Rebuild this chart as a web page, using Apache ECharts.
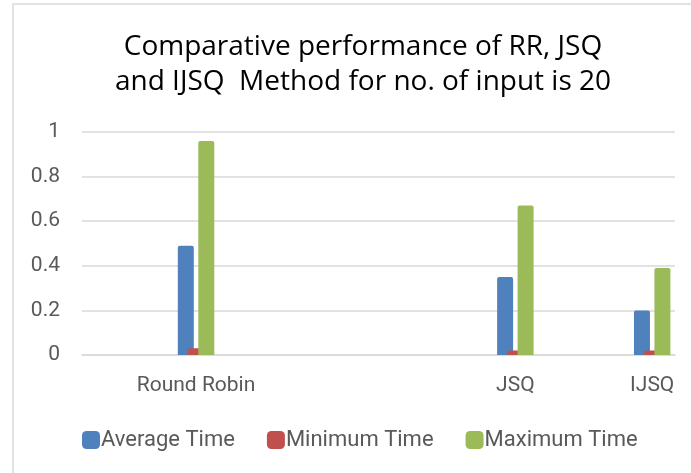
<!DOCTYPE html>
<html>
<head>
<meta charset="utf-8">
<script src="https://cdn.jsdelivr.net/npm/echarts@6/dist/echarts.min.js"></script>
<style>
  html, body { margin: 0; padding: 0; background: #fff; }
  #chart { width: 691px; height: 473px; }
</style>
</head>
<body>
<div id="chart"></div>
<script>
// categories (empty slots keep the original spacing)
var categories = ['', '', 'Round Robin', '', '', '', '', '', '', 'JSQ', '', '', 'IJSQ'];
var avgTime = [null, null, 0.49, null, null, null, null, null, null, 0.35, null, null, 0.20];
var minTime = [null, null, 0.03, null, null, null, null, null, null, 0.02, null, null, 0.02];
var maxTime = [null, null, 0.96, null, null, null, null, null, null, 0.67, null, null, 0.39];
var yTicks = [0, 0.2, 0.4, 0.6, 0.8, 1];

var font = 'Roboto, "Noto Sans", sans-serif';

var mychart = echarts.init(document.getElementById('chart'));

function barSeries(name, data, color) {
    return {
        name: name,
        type: 'bar',
        data: data,
        barWidth: 16,
        barGap: '-36%',
        itemStyle: {color: color, borderRadius: [2, 2, 0, 0]}
    };
}

var option = {
    animation: false,
    title: {
        text: 'Comparative performance of RR, JSQ\nand IJSQ  Method for no. of input is 20',
        left: 358,
        textAlign: 'center',
        top: 25,
        textStyle: {
            fontFamily: '"Open Sans", sans-serif',
            fontWeight: 'normal',
            fontSize: 28,
            lineHeight: 35,
            color: '#000'
        }
    },
    legend: {
        bottom: 17,
        left: 77,
        itemWidth: 18,
        itemHeight: 18,
        itemGap: 32,
        icon: 'roundRect',
        textStyle: {fontFamily: font, fontSize: 22, color: '#595959', padding: [0, 0, 0, -4]},
        data: ['Average Time', 'Minimum Time', 'Maximum Time']
    },
    grid: {left: 82, right: 16, top: 132, bottom: 118},
    xAxis: {
        type: 'category',
        data: categories,
        axisLine: {lineStyle: {color: '#d9d9d9', width: 1.5}},
        axisTick: {show: false},
        axisLabel: {interval: 0, margin: 20, fontFamily: font, fontSize: 21, color: '#595959'}
    },
    yAxis: {
        type: 'value',
        min: yTicks[0],
        max: yTicks[yTicks.length - 1],
        interval: 0.2,
        axisLine: {show: false},
        axisTick: {show: false},
        splitLine: {lineStyle: {color: '#d9d9d9', width: 1.5}},
        axisLabel: {margin: 22, fontFamily: font, fontSize: 21, color: '#595959'}
    },
    graphic: [{
        type: 'rect',
        shape: {x: 13, y: 4, width: 700, height: 500},
        style: {fill: 'none', stroke: '#d9d9d9', lineWidth: 1.5},
        silent: true
    }],
    series: [
        barSeries('Average Time', avgTime, '#4f81bd'),
        barSeries('Minimum Time', minTime, '#c0504d'),
        barSeries('Maximum Time', maxTime, '#9bbb59')
    ]
};

mychart.setOption(option);
</script>
</body>
</html>
